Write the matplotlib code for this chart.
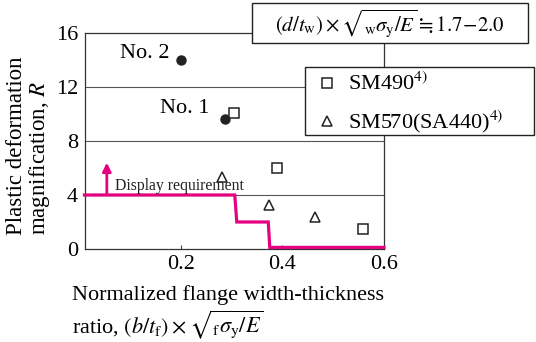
import matplotlib
matplotlib.use("Agg")
import matplotlib.pyplot as plt
from matplotlib.patches import Rectangle
from matplotlib.lines import Line2D

plt.rcParams['font.family'] = ['Liberation Serif', 'DejaVu Serif']
plt.rcParams['mathtext.fontset'] = 'stix'

# data
circle_x = [0.200, 0.287]
circle_y = [14.0, 9.6]
circle_labels = ['No. 2', 'No. 1']
sm490_x = [0.304, 0.389, 0.558]
sm490_y = [10.1, 6.0, 1.45]
sm570_x = [0.281, 0.373, 0.464]
sm570_y = [5.3, 3.25, 2.35]
req_x = [0.01, 0.306, 0.310, 0.372, 0.375, 0.60]
req_y = [4.0, 4.0, 2.0, 2.0, 0.12, 0.12]
xticks = [0.2, 0.4, 0.6]
yticks = [0, 4, 8, 12, 16]

FS = 16
W, H = 536, 342
fig = plt.figure(figsize=(W/100, H/100), dpi=100)
ax = fig.add_axes([85/W, 1-249/H, (384-85)/W, (249-33)/H])
ax.set_xlim(0.011, 0.6)
ax.set_ylim(0, 16)
ax.set_xticks(xticks)
ax.set_xticklabels(['0.2', '0.4', '0.6'])
ax.set_yticks(yticks)
ax.tick_params(direction='in', length=3, width=0.8, labelsize=FS, pad=4, color='#444444')
ax.tick_params(axis='y', length=0, pad=5)
for s in ax.spines.values():
    s.set_linewidth(0.9)
    s.set_color('#333333')
for yv in [4, 8, 12]:
    ax.axhline(yv, color='#555555', lw=0.8, zorder=1)

pink = '#e4007f'
ax.plot(req_x, req_y, color=pink, lw=2.3, zorder=3, solid_joinstyle='miter', clip_on=False)
ax.annotate('', xy=(0.054, 6.6), xytext=(0.054, 3.9),
            arrowprops=dict(arrowstyle='-|>,head_width=0.25,head_length=0.5', color=pink, lw=2.0),
            zorder=3)
ax.text(0.071, 4.1, 'Display requirement', fontsize=11.3, ha='left', va='bottom', color='#222222', zorder=4)

ax.plot(circle_x, circle_y, 'o', color='#222222', ms=6.5, zorder=5)
ax.text(0.178, 14.5, circle_labels[0], fontsize=FS, ha='right', va='center')
ax.text(0.257, 10.4, circle_labels[1], fontsize=FS, ha='right', va='center')
ax.plot(sm490_x, sm490_y, 's', mfc='white', mec='#222222', mew=1.1, ms=7, zorder=5)
ax.plot(sm570_x, sm570_y, '^', mfc='white', mec='#222222', mew=1.1, ms=7.5, zorder=5)

# top condition box
fig.patches.append(Rectangle((252/W, 1-43/H), (528-252)/W, (43-3)/H, transform=fig.transFigure,
                             facecolor='white', edgecolor='#222222', lw=1.0, zorder=10))
fig.text(390/W, 1-23/H,
         r'$(d/t_{\mathrm{w}})\times\sqrt{{}_{\mathrm{w}}\sigma_{\mathrm{y}}/E}\fallingdotseq 1.7\!-\!2.0$',
         fontsize=15, ha='center', va='center', zorder=11)

# legend box
fig.patches.append(Rectangle((305/W, 1-135/H), (534-305)/W, (135-67)/H, transform=fig.transFigure,
                             facecolor='white', edgecolor='#222222', lw=1.0, zorder=10))
fig.lines.append(Line2D([327/W], [1-83/H], transform=fig.transFigure, marker='s', mfc='white',
                        mec='#222222', mew=1.1, ms=7, zorder=11))
fig.lines.append(Line2D([327/W], [1-121/H], transform=fig.transFigure, marker='^', mfc='white',
                        mec='#222222', mew=1.1, ms=7.5, zorder=11))
fig.text(348/W, 1-84/H, r'SM490$^{4)}$', fontsize=FS, ha='left', va='center', zorder=11)
fig.text(348/W, 1-122/H, r'SM570(SA440)$^{4)}$', fontsize=FS, ha='left', va='center', zorder=11)

# axis labels
fig.text(72/W, 1-295/H, 'Normalized flange width-thickness', fontsize=FS, ha='left', va='center')
fig.text(72/W, 1-325/H, r'ratio, $(b/t_{\mathrm{f}})\times\sqrt{{}_{\mathrm{f}}\sigma_{\mathrm{y}}/E}$',
         fontsize=FS, ha='left', va='center')
fig.text(29/W, 1-235/H, 'Plastic deformation\nmagnification, $R$', fontsize=16.5, rotation=90,
         ha='center', va='bottom', multialignment='left', linespacing=0.95)

fig.savefig('out.png', dpi=100)
